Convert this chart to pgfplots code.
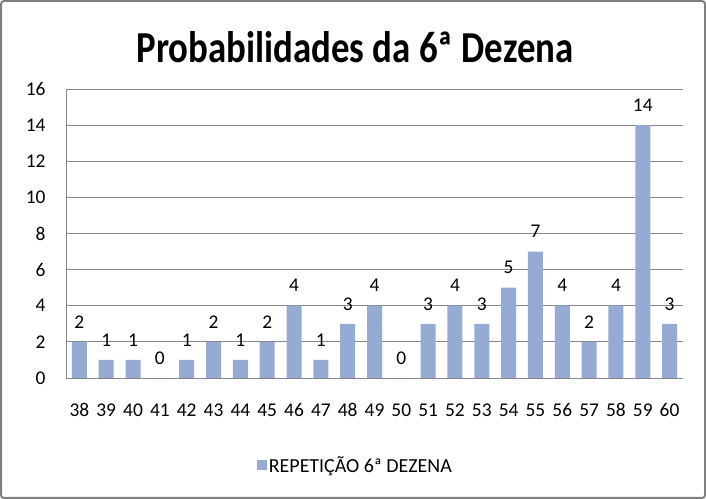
\documentclass[border=0pt]{standalone}
\usepackage{fontspec}
\setmainfont{Carlito}
\usepackage{graphicx}
\usepackage{pgfplots}
\pgfplotsset{compat=1.18}
\definecolor{barc}{RGB}{149,171,212}
\definecolor{gridc}{RGB}{134,134,134}
\newcommand{\vs}[1]{\scalebox{1}[1.2]{#1}}
\begin{document}
\begin{tikzpicture}
\useasboundingbox (0,0) rectangle (706bp,499bp);
\draw[color={rgb,255:red,128;green,128;blue,128}, line width=2bp, rounded corners=3bp] (1bp,1bp) rectangle (705bp,498bp);
\node[anchor=base, font=\fontsize{37}{40}\selectfont\bfseries] at (355bp,436bp) {\vs{Probabilidades da 6ª Dezena}};
\begin{axis}[
  at={(66bp,121bp)}, anchor=south west,
  scale only axis, width=617bp, height=289bp,
  xmin=-0.5, xmax=22.5, ymin=0, ymax=16,
  axis lines=left, axis line style={-, draw=gridc},
  ybar, bar width=15bp,
  ymajorgrids, grid style={gridc, line width=0.8bp},
  major tick length=0pt,
  xtick={0,...,22},
  xticklabels={38,39,40,41,42,43,44,45,46,47,48,49,50,51,52,53,54,55,56,57,58,59,60},
  ytick={0,2,...,16},
  yticklabels={0,2,4,6,8,10,12,14,16},
  xticklabel style={font=\fontsize{19.5}{22}\selectfont, anchor=center, yshift=-32bp},
  yticklabel style={font=\fontsize{19.5}{22}\selectfont, anchor=east, xshift=-17bp},
  nodes near coords={\pgfmathprintnumber[assume math mode=true]{\pgfplotspointmeta}},
  every node near coord/.append style={font=\fontsize{19.5}{22}\selectfont, anchor=center, yshift=20bp},
  legend style={at={(0.469,-0.301)}, anchor=center, draw=none, fill=none, font=\fontsize{20}{22}\selectfont},
  legend image code/.code={\fill[barc] (0bp,-5bp) rectangle (10bp,5bp);},
  clip=false,
]
\addplot[fill=barc, draw=none] coordinates {
(0,2) (1,1) (2,1) (3,0) (4,1) (5,2) (6,1) (7,2) (8,4) (9,1) (10,3) (11,4)
(12,0) (13,3) (14,4) (15,3) (16,5) (17,7) (18,4) (19,2) (20,4) (21,14) (22,3)};
\addlegendentry{REPETIÇÃO 6ª DEZENA}
\end{axis}
\end{tikzpicture}
\end{document}
